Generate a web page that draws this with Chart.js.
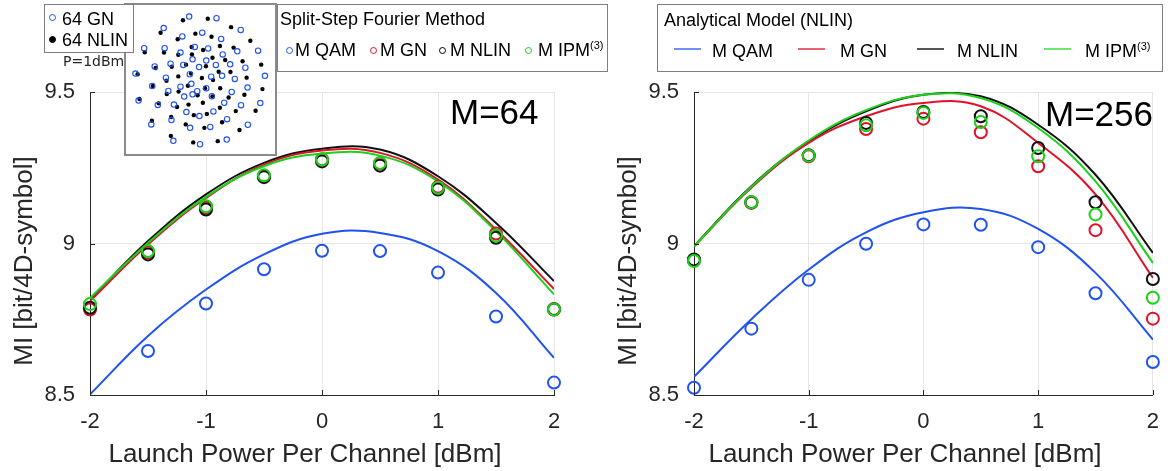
<!DOCTYPE html>
<html>
<head>
<meta charset="utf-8">
<title>MI vs launch power</title>
<script src="https://cdn.jsdelivr.net/npm/chart.js@4.4.1/dist/chart.umd.min.js"></script>
<style>
    body { margin: 0; background: #fff; font-family: "Liberation Sans", Arial, sans-serif; color: #262626; }
    #wrap { position: relative; width: 1173px; height: 471px; overflow: hidden; }
    canvas { position: absolute; }
    .box { position: absolute; background: #fff; border: 1.5px solid #808080; box-sizing: border-box; }
    .txt { position: absolute; white-space: nowrap; line-height: 1; }
    .leg { font-size: 18px; color: #000; }
    .mark { position: absolute; width: 7px; height: 7px; border-radius: 50%; box-sizing: border-box; border: 1.3px solid; }
    .seg { position: absolute; display: block; width: 27px; height: 0; border-top: 2px solid; }
    .sup { font-size: 11px; position: relative; top: -7px; }
    .axis-title { position: absolute; font-size: 26px; line-height: 1; white-space: nowrap; text-align: center; }
    .panel-tag { position: absolute; font-size: 35px; line-height: 1; color: #000; }
</style>
</head>
<body>
<div id="wrap">
    <canvas id="chart64" width="590" height="471" style="left:0;top:0"></canvas>
    <canvas id="chart256" width="583" height="471" style="left:590px;top:0"></canvas>

    <!-- axis titles -->
    <div class="axis-title" style="left:55px;top:440px;width:500px">Launch Power Per Channel [dBm]</div>
    <div class="axis-title" style="left:655px;top:440px;width:500px">Launch Power Per Channel [dBm]</div>
    <div class="axis-title" style="left:23px;top:261px;width:300px;transform:translate(-50%,-50%) rotate(-90deg)">MI [bit/4D-symbol]</div>
    <div class="axis-title" style="left:627px;top:261px;width:300px;transform:translate(-50%,-50%) rotate(-90deg)">MI [bit/4D-symbol]</div>

    <div class="panel-tag" style="left:450px;top:94px">M=64</div>
    <div class="panel-tag" style="left:1045px;top:96px">M=256</div>

    <!-- constellation inset -->
    <div class="box" style="left:124px;top:3px;width:153px;height:153px;border:2px solid #8a8a8a">
        <canvas id="inset" width="149" height="149" style="left:0;top:0"></canvas>
    </div>
    <div class="box" style="left:44px;top:4px;width:90px;height:49px"></div>
    <span class="mark" style="left:49px;top:14px;border-color:#1f52f0"></span>
    <div class="txt leg" style="left:62px;top:10px">64 GN</div>
    <span class="mark" style="left:49px;top:36px;border-color:#000;background:#000"></span>
    <div class="txt leg" style="left:62px;top:31px">64 NLIN</div>
    <div class="txt" style="left:63px;top:54px;font-family:'DejaVu Sans',sans-serif;font-size:14px">P=1dBm</div>

    <!-- split-step legend -->
    <div class="box" style="left:277px;top:4px;width:331px;height:68px"></div>
    <div class="txt leg" style="left:280px;top:10px">Split-Step Fourier Method</div>
    <span class="mark" style="left:285.5px;top:46.5px;border-color:#1f52f0"></span>
    <div class="txt leg" style="left:295px;top:41px">M QAM</div>
    <span class="mark" style="left:369.5px;top:46.5px;border-color:#e0112b"></span>
    <div class="txt leg" style="left:380px;top:41px">M GN</div>
    <span class="mark" style="left:438.5px;top:46.5px;border-color:#000"></span>
    <div class="txt leg" style="left:450px;top:41px">M NLIN</div>
    <span class="mark" style="left:524.5px;top:46.5px;border-color:#19d219"></span>
    <div class="txt leg" style="left:538px;top:41px">M IPM<span class="sup">(3)</span></div>

    <!-- analytical legend -->
    <div class="box" style="left:657px;top:4px;width:506px;height:68px"></div>
    <div class="txt leg" style="left:664px;top:11px">Analytical Model (NLIN)</div>
    <span class="seg" style="left:674px;top:48px;border-color:#6f8ef7"></span>
    <div class="txt leg" style="left:712px;top:42px">M QAM</div>
    <span class="seg" style="left:798px;top:48px;border-color:#ec6075"></span>
    <div class="txt leg" style="left:840px;top:42px">M GN</div>
    <span class="seg" style="left:917px;top:48px;border-color:#555"></span>
    <div class="txt leg" style="left:957px;top:42px">M NLIN</div>
    <span class="seg" style="left:1044px;top:48px;border-color:#6ee56e"></span>
    <div class="txt leg" style="left:1085px;top:42px">M IPM<span class="sup">(3)</span></div>
</div>

<script>
// launch power per channel [dBm]
const power = [-2, -1.5, -1, -0.5, 0, 0.5, 1, 1.5, 2];
const xTicks = [-2, -1, 0, 1, 2];
const yTicks = [8.5, 9, 9.5];

// M=64, split-step simulation (markers)
const ssfm64Qam  = [null, 8.645, 8.802, 8.915, 8.976, 8.975, 8.904, 8.759, 8.541];
const ssfm64Gn   = [8.782, 8.970, 9.118, 9.222, 9.277, 9.264, 9.187, 9.033, 8.784];
const ssfm64Nlin = [8.788, 8.964, 9.112, 9.219, 9.271, 9.257, 9.178, 9.019, 8.782];
const ssfm64Ipm  = [8.800, 8.975, 9.123, 9.225, 9.277, 9.266, 9.184, 9.026, 8.782];

// M=64, analytical model (lines)
const model64Qam  = [8.502, 8.695, 8.848, 8.964, 9.032, 9.035, 8.975, 8.837, 8.623];
const model64Gn   = [8.810, 8.997, 9.150, 9.260, 9.307, 9.299, 9.211, 9.046, 8.850];
const model64Nlin = [8.815, 9.008, 9.162, 9.266, 9.313, 9.310, 9.222, 9.068, 8.876];
const model64Ipm  = [8.820, 9.002, 9.154, 9.255, 9.297, 9.290, 9.205, 9.040, 8.832];

// M=256, split-step simulation (markers)
const ssfm256Qam  = [8.524, 8.719, 8.880, 8.999, 9.063, 9.062, 8.988, 8.836, 8.609];
const ssfm256Gn   = [8.945, 9.134, 9.288, 9.378, 9.412, 9.367, 9.255, 9.044, 8.752];
const ssfm256Nlin = [8.947, 9.136, 9.291, 9.398, 9.434, 9.420, 9.315, 9.136, 8.883];
const ssfm256Ipm  = [8.942, 9.136, 9.290, 9.390, 9.431, 9.401, 9.288, 9.096, 8.821];

// M=256, analytical model (lines)
const model256Qam  = [8.560, 8.750, 8.914, 9.037, 9.103, 9.114, 9.048, 8.903, 8.683];
const model256Gn   = [8.990, 9.184, 9.332, 9.420, 9.464, 9.453, 9.332, 9.162, 8.887];
const model256Nlin = [8.991, 9.189, 9.337, 9.436, 9.491, 9.486, 9.392, 9.227, 8.969];
const model256Ipm  = [8.990, 9.187, 9.340, 9.440, 9.491, 9.480, 9.381, 9.205, 8.936];

// inset: 64-point constellation at P=1dBm (I/Q, arbitrary units)
const gnI = [-1.75, 2.65, -5.85, 6.55, 0.35, -2.85, 3.4, -9.0, -5.7, -0.85, 1.3, 6.0, 9.35, -3.15, 3.65, -1.2,
    1.0, -4.75, -2.7, 2.55, 4.85, -7.3, -0.15, 7.3, -10.4, -1.65, 1.8, 3.55, 10.45, -5.5, 5.6, -1.4,
    -7.7, -3.15, 1.0, 7.65, -5.1, -0.45, 5.1, -2.55, -1.2, 1.9, -9.9, -6.8, -4.2, 3.9, 6.6, 9.7,
    -2.2, -0.1, 2.15, -4.6, 4.35, -7.85, -1.6, 1.65, 7.7, -4.3, 0.0, 4.3];
const gnQ = [10.25, 10.0, 8.4, 8.1, 7.65, 7.05, 6.65, 5.15, 5.15, 5.35, 5.1, 4.65, 4.75, 4.45, 4.15, 3.35,
    3.15, 2.65, 2.45, 2.45, 2.55, 2.2, 2.1, 2.0, 1.05, 0.95, 0.55, 0.7, 0.7, 0.4, 0.2, -0.6,
    -0.95, -1.05, -1.3, -1.2, -1.75, -1.8, -1.9, -2.65, -2.3, -2.6, -3.3, -4.0, -3.95, -3.65, -4.05, -3.7,
    -5.15, -5.8, -5.05, -6.45, -6.3, -7.15, -7.7, -7.55, -7.2, -9.8, -10.35, -9.6];
const nlinI = [-2.75, 1.25, -6.35, 5.0, -0.75, 1.85, -3.6, 8.1, -8.9, -5.8, -1.35, 0.5, 3.2, 5.4, -3.5, -1.3,
    2.0, 4.05, 6.85, 9.85, -2.25, 0.95, 3.0, -7.15, -4.55, -10.05, -3.5, 0.3, 2.1, 4.9, 7.5, -1.45,
    -5.4, -7.6, -1.95, 0.8, 3.25, 10.05, -3.45, -5.35, -0.4, 2.0, 4.6, 7.15, -9.75, -6.65, -3.7, -1.85,
    0.45, 3.2, 5.75, 8.95, -1.0, 1.1, -4.65, 3.55, -7.75, -2.3, 0.7, 6.35, -4.7, -1.1, 2.85];
const nlinQ = [9.65, 9.9, 7.65, 8.55, 7.5, 7.0, 6.6, 6.35, 4.5, 4.45, 5.35, 4.85, 5.5, 5.25, 4.1, 4.15,
    3.6, 3.25, 3.05, 2.5, 2.5, 2.25, 1.35, 1.95, 2.15, 0.95, 0.6, 0.35, 0.0, 1.3, 0.4, 1.05,
    -0.1, -0.95, -0.9, -1.3, -1.3, -1.45, -1.85, -2.25, -2.45, -2.65, -2.8, -2.35, -3.05, -3.75, -4.35, -3.95,
    -3.65, -4.45, -5.0, -4.95, -5.65, -5.45, -5.95, -6.8, -6.55, -7.15, -7.7, -8.05, -9.0, -10.05, -9.85];

const BLUE = '#1f52f0';
const RED = '#e0112b';
const BLACK = '#111111';
const GREEN = '#19d219';
const FONT = "'Liberation Sans', Arial, sans-serif";

function pairs(xs, ys) {
    return xs.map((x, i) => ({ x: x, y: ys[i] }));
}

// matlab-style short ticks pointing into the plot
const inwardTicks = {
    id: 'inwardTicks',
    afterDatasetsDraw(chart) {
        const { ctx, chartArea: a, scales: { x, y } } = chart;
        ctx.save();
        ctx.strokeStyle = '#262626';
        ctx.lineWidth = 1;
        ctx.beginPath();
        x.ticks.forEach(t => {
            const px = Math.round(x.getPixelForValue(t.value)) + 0.5;
            ctx.moveTo(px, a.bottom);
            ctx.lineTo(px, a.bottom - 5);
        });
        y.ticks.forEach(t => {
            const py = Math.round(y.getPixelForValue(t.value)) + 0.5;
            ctx.moveTo(a.left, py);
            ctx.lineTo(a.left + 5, py);
        });
        ctx.stroke();
        ctx.restore();
    }
};

function markerSet(values, color, order) {
    return {
        data: pairs(power, values),
        showLine: false,
        pointStyle: 'circle',
        pointRadius: 6,
        pointHoverRadius: 6,
        pointBorderWidth: 2,
        pointBorderColor: color,
        pointBackgroundColor: 'rgba(0,0,0,0)',
        clip: false,
        order: order
    };
}

function lineSet(values, color, order) {
    return {
        data: pairs(power, values),
        showLine: true,
        borderColor: color,
        borderWidth: 2,
        pointRadius: 0,
        tension: 0.4,
        order: order
    };
}

function drawPanel(id, sim, model, yAxisWidth, rightPad) {
    new Chart(document.getElementById(id), {
        type: 'scatter',
        data: {
            datasets: [
                markerSet(sim.ipm, GREEN, 0),
                markerSet(sim.nlin, BLACK, 1),
                markerSet(sim.gn, RED, 2),
                markerSet(sim.qam, BLUE, 3),
                lineSet(model.ipm, GREEN, 4),
                lineSet(model.gn, RED, 5),
                lineSet(model.nlin, BLACK, 6),
                lineSet(model.qam, BLUE, 7)
            ]
        },
        options: {
            responsive: false,
            animation: false,
            devicePixelRatio: 1,
            layout: { padding: { top: 92, right: rightPad, left: 0, bottom: 0 } },
            plugins: { legend: { display: false }, tooltip: { enabled: false } },
            scales: {
                x: {
                    type: 'linear',
                    min: -2,
                    max: 2,
                    afterFit: s => { s.height = 76; },
                    afterBuildTicks: s => { s.ticks = xTicks.map(v => ({ value: v })); },
                    grid: { color: '#e6e6e6', drawTicks: false },
                    border: { color: '#262626', width: 1 },
                    ticks: { color: '#262626', font: { family: FONT, size: 22 }, padding: 14,
                        callback: v => String(v) }
                },
                y: {
                    type: 'linear',
                    min: 8.5,
                    max: 9.5,
                    afterFit: s => { s.width = yAxisWidth; },
                    afterBuildTicks: s => { s.ticks = yTicks.map(v => ({ value: v })); },
                    grid: { color: '#e6e6e6', drawTicks: false },
                    border: { color: '#262626', width: 1 },
                    ticks: { color: '#262626', font: { family: FONT, size: 22 }, padding: 15,
                        callback: v => String(v) }
                }
            }
        },
        plugins: [inwardTicks]
    });
}

drawPanel('chart64',
    { qam: ssfm64Qam, gn: ssfm64Gn, nlin: ssfm64Nlin, ipm: ssfm64Ipm },
    { qam: model64Qam, gn: model64Gn, nlin: model64Nlin, ipm: model64Ipm },
    90, 36);

drawPanel('chart256',
    { qam: ssfm256Qam, gn: ssfm256Gn, nlin: ssfm256Nlin, ipm: ssfm256Ipm },
    { qam: model256Qam, gn: model256Gn, nlin: model256Nlin, ipm: model256Ipm },
    104, 16);

// constellation inset
new Chart(document.getElementById('inset'), {
    type: 'scatter',
    data: {
        datasets: [
            {
                data: pairs(gnI, gnQ),
                pointRadius: 2.7,
                pointBorderWidth: 1.1,
                pointBorderColor: BLUE,
                pointBackgroundColor: 'rgba(0,0,0,0)',
                clip: false
            },
            {
                data: pairs(nlinI, nlinQ),
                pointRadius: 2.2,
                pointBorderWidth: 0,
                pointBackgroundColor: '#000',
                clip: false
            }
        ]
    },
    options: {
        responsive: false,
        animation: false,
        devicePixelRatio: 1,
        layout: { padding: 0 },
        plugins: { legend: { display: false }, tooltip: { enabled: false } },
        scales: {
            x: { display: false, min: -11.1, max: 11.25 },
            y: { display: false, min: -11.1, max: 11.3 }
        }
    }
});
</script>
</body>
</html>
